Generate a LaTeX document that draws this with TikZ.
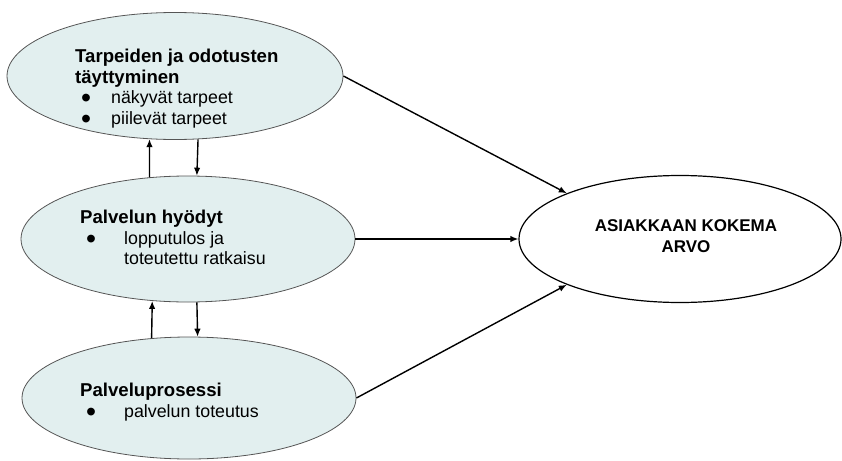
\documentclass[tikz,border=0pt]{standalone}
\usepackage{fontspec}
\usepackage{graphicx}
\setmainfont{Liberation Sans}
\usetikzlibrary{arrows.meta,shapes.geometric}
\definecolor{paleblue}{RGB}{226,239,239}
\definecolor{rimgray}{RGB}{85,85,85}
\newcommand{\bul}[2][36pt]{\makebox[#1][l]{\hspace{6pt}\smash{\raisebox{-0.45ex}{\scalebox{1.6}{\textbullet}}}}#2}
\newcommand{\otsikko}[1]{{\fontsize{18.6}{20.5}\selectfont\bfseries #1}}

\begin{document}
\begin{tikzpicture}[x=1pt, y=-1pt,
	kupla/.style={draw=rimgray, ellipse, fill=paleblue, line width=0.8pt, inner sep=0pt},
	teksti/.style={align=left, anchor=north west, inner sep=0pt, font=\fontsize{17.8}{20.5}\selectfont},
	nuoli/.style={-{Latex[length=8pt,width=6.5pt]}, line width=1.4pt}]
	\useasboundingbox (0,0) rectangle (842,460);
	\node (tarve) [kupla, minimum width=336pt, minimum height=127pt] at (175, 76) {};
	\node (hyoty) [kupla, minimum width=334pt, minimum height=126pt] at (188, 239) {};
	\node (prosessi) [kupla, minimum width=334pt, minimum height=122pt] at (189, 398) {};
	\node (arvo) [draw, ellipse, fill=white, line width=1.2pt, inner sep=0pt, minimum width=322pt, minimum height=127pt] at (680, 239) {};
	% tekstit
	\node (tarveteksti) [teksti] at (75, 49) {\otsikko{Tarpeiden ja odotusten}\\\otsikko{täyttyminen}\\\bul{näkyvät tarpeet}\\\bul{piilevät tarpeet}};
	\node (hyotyteksti) [teksti] at (80, 210) {\otsikko{Palvelun hyödyt}\\\bul[44pt]{lopputulos ja}\\\hspace*{44pt}toteutettu ratkaisu};
	\node (prosessiteksti) [teksti] at (80, 383) {\otsikko{Palveluprosessi}\\\bul[44pt]{palvelun toteutus}};
	\node (arvoteksti) [align=center, font=\fontsize{17}{20.5}\selectfont\bfseries] at (686, 236) {ASIAKKAAN KOKEMA\\ARVO};
	% nuolet
	\draw[nuoli] (tarve.east) -- (arvo.158);
	\draw[nuoli] (hyoty.east) -- (arvo.west);
	\draw[nuoli] (prosessi.east) -- (arvo.202);
	\draw[nuoli] (hyoty.122) -- (tarve.248);
	\draw[nuoli] (tarve.290) -- (hyoty.82);
	\draw[nuoli] (prosessi.122) -- (hyoty.240);
	\draw[nuoli] (hyoty.278) -- (prosessi.82);
\end{tikzpicture}
\end{document}
